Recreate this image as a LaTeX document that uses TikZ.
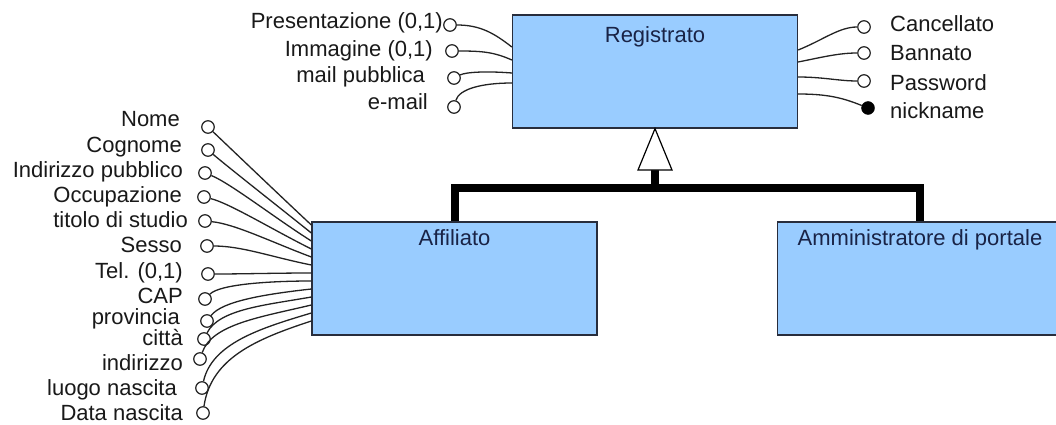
\documentclass[tikz,border=0pt]{standalone}
\usepackage{fontspec}
\setmainfont{Liberation Sans}
\usetikzlibrary{calc}

\definecolor{boxfill}{RGB}{153,204,255}
\definecolor{boxline}{RGB}{40,45,60}
\definecolor{titlecol}{RGB}{25,35,70}
\definecolor{linkcol}{RGB}{35,35,35}
\definecolor{txtcol}{RGB}{25,25,25}

\begin{document}
\begin{tikzpicture}[x=1pt,y=-1pt,
  entity/.style={draw=boxline, fill=boxfill, line width=1.3pt,
    minimum width=285pt, minimum height=113pt, inner sep=0pt},
  title/.style={font=\fontsize{22}{26}\selectfont, text=titlecol,
    inner sep=0pt, anchor=base},
  lbl/.style={font=\fontsize{22}{26}\selectfont, text=txtcol, inner sep=0pt},
  attr/.style={circle, draw=linkcol, fill=white, line width=1.2pt,
    inner sep=0pt, minimum size=12.5pt},
  keyattr/.style={circle, draw=black, fill=black, inner sep=0pt,
    minimum size=13pt},
  link/.style={draw=linkcol, line width=1.3pt},
  gen/.style={draw=black, line width=8pt, line join=miter}
]
\useasboundingbox (0,0) rectangle (1056,425);
\clip (0,0) rectangle (1056,425);
\fill[white] (0,0) rectangle (1056,425);

% entities
\node[entity] (reg) at (655,71.5) {};
\node[entity] (aff) at (454.5,278.5) {};
\node[entity] (adm) at (920,278.5) {};
\node[title] (reg-t) at ($(reg.north)+(0,28)$) {Registrato};
\node[title] (aff-t) at ($(aff.north)+(0,24)$) {Affiliato};
\node[title] (adm-t) at ($(adm.north)+(0,24)$) {Amministratore di portale};

% generalization hierarchy
\coordinate (hub) at (655,188);
\coordinate (tri) at (655,170);
\draw[gen] (aff.north) |- (hub) -| (adm.north);
\draw[gen] (hub) -- (tri);
\draw[line width=1.2pt, fill=white, line join=miter]
  ($(tri)+(-17,0)$) -- (reg.south) -- ($(tri)+(17,0)$) -- cycle;

% attributes of Registrato, left side
\foreach \nm/\txt/\cx/\cy/\lx/\ly/\ey/\ax/\ay/\bx/\bY in {
  pres/{Presentazione (0,1)}/450/25/443/29/47/30/0/-18/-14,
  imm/{Immagine (0,1)}/452/51/433/57/60/30/0/-18/-8,
  mpub/{mail pubblica}/454/78/425/83/73/12/-6/-25/-2,
  email/e-mail/454/107/428/110/83/5/-18/-30/0}{
  \node[attr] (\nm) at (\cx,\cy) {};
  \node[lbl, anchor=base east] (\nm-l) at (\lx,\ly) {\txt};
  \coordinate (\nm-e) at (reg.west |- 0,\ey);
  \draw[link] (\nm) .. controls +(\ax,\ay) and +(\bx,\bY) .. (\nm-e);
}

% attributes of Registrato, right side
\foreach \nm/\txt/\cx/\cy/\lx/\ly/\ey/\ax/\ay/\bx/\bY in {
  canc/Cancellato/864/27/890/32/50/-25/0/25/-10,
  bann/Bannato/864/53/890/61/62/-25/0/25/-5,
  pwd/Password/864/81/890/91/77/-25/0/25/0}{
  \node[attr] (\nm) at (\cx,\cy) {};
  \node[lbl, anchor=base west] (\nm-l) at (\lx,\ly) {\txt};
  \coordinate (\nm-e) at (reg.east |- 0,\ey);
  \draw[link] (\nm) .. controls +(\ax,\ay) and +(\bx,\bY) .. (\nm-e);
}
\node[keyattr] (nick) at (868,108) {};
\node[lbl, anchor=base west] (nick-l) at (890,118) {nickname};
\coordinate (nick-e) at (reg.east |- 0,94);
\draw[link] (nick) .. controls +(-25,-10) and +(30,0) .. (nick-e);

% attributes of Affiliato
\foreach \nm/\txt/\cx/\cy/\lx/\ly/\ey/\ax/\ay/\bx/\bY in {
  nome/Nome/208/127/180/126/225/20/19/-30/-28,
  cogn/Cognome/208/150/182/152/233/20/17/-30/-24,
  indp/{Indirizzo pubblico}/205/173/183/177/241/25/10/-35/-22,
  occ/Occupazione/204/197/182/202/249/25/6/-40/-20,
  tit/{titolo di studio}/205/221/188/227/257/30/3/-40/-15,
  sex/Sesso/207/246/182/252/265/35/0/-40/-8,
  tel/{Tel. (0,1)}/208/274/183/278/273/35/0/-35/0,
  cap/CAP/205/299/183/303/281/15/-15/-40/0,
  prov/provincia/207/321/180/324/289/15/-20/-45/5,
  citta/città/204/339/183/345/297/15/-30/-45/8,
  ind/indirizzo/200/359/183/370/305/12/-35/-50/12,
  luogo/{luogo nascita}/202/388/177/395/313/10/-45/-50/15,
  data/{Data nascita}/203/413/183/420/321/8/-55/-55/18}{
  \node[attr] (\nm) at (\cx,\cy) {};
  \node[lbl, anchor=base east] (\nm-l) at (\lx,\ly) {\txt};
  \coordinate (\nm-e) at (aff.west |- 0,\ey);
  \draw[link] (\nm) .. controls +(\ax,\ay) and +(\bx,\bY) .. (\nm-e);
}
\end{tikzpicture}
\end{document}
